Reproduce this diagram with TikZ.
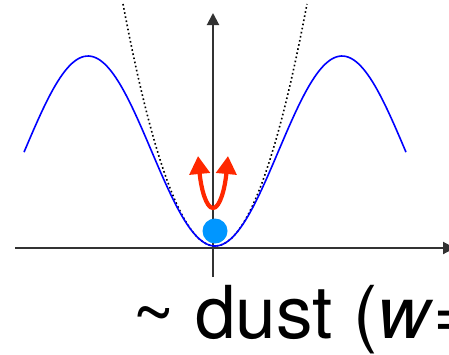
\documentclass[tikz,border=0pt]{standalone}
\usepackage{fontspec}
\setmainfont{TeX Gyre Heros}
\usetikzlibrary{arrows.meta}
\definecolor{axisgray}{RGB}{50,50,50}
\definecolor{dotblue}{RGB}{0,150,255}
\definecolor{arrowred}{RGB}{255,40,0}
\tikzset{
  axisline/.style={draw=axisgray, line width=2pt, -{Triangle[width=12pt,length=12pt]}},
  potential/.style={draw=blue, line width=1.6pt},
  approx/.style={draw=black, line width=1.6pt, dash pattern=on 1.6pt off 2.6pt},
  kick/.style={draw=arrowred, line width=4.2pt, {Triangle[width=20pt,length=18pt]}-{Triangle[width=20pt,length=18pt]}},
  label/.style={font=\fontsize{73}{80}\selectfont, inner sep=0pt, anchor=base west}
}
\begin{document}
\begin{tikzpicture}[x=1pt,y=-1pt]
\useasboundingbox (0,0) rectangle (449,354);
\clip (0,0) rectangle (449,354);
% axes
\coordinate (xs) at (15,248);
\coordinate (xe) at (455,248);
\coordinate (ys) at (213,277);
\coordinate (ye) at (213,13);
\draw[axisline] (xs) -- (xe);
\draw[axisline] (ys) -- (ye);
% quadratic approximation
\draw[approx] plot[domain=123:307, samples=80] (\x, {246 - 0.0286*(\x-215)*(\x-215)});
% potential
\draw[potential] plot[domain=24:406, samples=160] (\x, {151 + 95*cos((\x-215)/127*180)});
% particle
\node[circle, fill=dotblue, minimum size=25pt, inner sep=0pt] (ball) at (215,231) {};
% fluctuation arrows
\coordinate (lt) at (198,156);
\coordinate (bt) at (213,208);
\coordinate (rt) at (228,156);
\draw[kick] (lt) .. controls (201,188) and (206,208) .. (bt) .. controls (220,208) and (225,188) .. (rt);
% label
\node[label] (txt) at (132,338) {\textasciitilde\ dust (\textit{w}=};
\end{tikzpicture}
\end{document}
